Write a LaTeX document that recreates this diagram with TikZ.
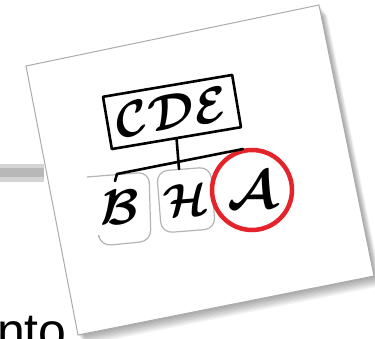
\RequirePackage{fix-cm}
\documentclass[tikz,border=0pt]{standalone}
\usepackage{amsmath}
\usepackage{fontspec}
\newfontfamily\slidefont{Liberation Sans}
\usepackage{tikz}
\usetikzlibrary{positioning,calc}
\definecolor{inkred}{HTML}{E5232B}
\definecolor{boxgray}{HTML}{B4B4B4}
\definecolor{smudgegray}{HTML}{B8B8B8}

\begin{document}
\begin{tikzpicture}[x=1pt, y=-1pt,
  letter/.style={inner sep=0pt, font=\fontsize{50}{50}\selectfont},
  ink/.style={line width=2.6pt, line cap=round, line join=round},
  softbox/.style={draw=boxgray, line width=1.2pt, rounded corners=11pt}]
\useasboundingbox (0,0) rectangle (375,339);
\clip (0,0) rectangle (375,339);

% slide behind the photo
\draw[smudgegray!60, line width=18pt] (0,173) -- (44,173);
\draw[smudgegray, line width=9pt] (0,173) -- (44,173);
\node[anchor=base west, inner sep=0pt, font=\slidefont\fontsize{50}{50}\selectfont] (word) at (-3,348) {nto};

% the card
\coordinate (cardNW) at (26,66);
\coordinate (cardNE) at (319,5);
\coordinate (cardSE) at (374,276);
\coordinate (cardSW) at (78,335);
\foreach \s in {1,...,9}
  \fill[black, opacity=0.045] ([shift={(\s*0.9,\s*1.1)}]cardNW) -- ([shift={(\s*0.9,\s*1.1)}]cardNE)
    -- ([shift={(\s*0.9,\s*1.1)}]cardSE) -- ([shift={(\s*0.9,\s*1.1)}]cardSW) -- cycle;
\filldraw[fill=white, draw=gray!65, line width=1pt] (cardNW) -- (cardNE) -- (cardSE) -- (cardSW) -- cycle;

% sketch
\node[draw, ink, rotate=9.6, minimum width=131pt, minimum height=53pt, inner sep=0pt,
  font=\fontsize{50}{50}\selectfont] (cde) at (172,112) {$\boldsymbol{\mathcal{CDE}}$};
\draw[softbox] (87,177) -- (149,172) -- (151,241) -- (100,246) -- (99,238);
\node[letter] (b) at (120,207) {$\boldsymbol{\mathcal{B}}$};
\node[letter, softbox, draw, rotate=4.5, minimum width=54pt, minimum height=62pt,
  font=\fontsize{46}{46}\selectfont] (h) at (186,200) {$\boldsymbol{\mathcal{H}}$};
\node[letter, draw=inkred, circle, line width=4.5pt, minimum size=80pt,
  font=\fontsize{54}{54}\selectfont] (a) at (252,190) {$\boldsymbol{\mathcal{A}}$};

\coordinate (barW) at (117,174);
\coordinate (barE) at (243,149);
\coordinate (btick) at (115,181);
\coordinate (htop) at (179,169);
\draw[ink] (cde.south) -- (htop);
\draw[ink] (barW) -- (barE);
\draw[ink] (barW) -- (btick);
\end{tikzpicture}
\end{document}
